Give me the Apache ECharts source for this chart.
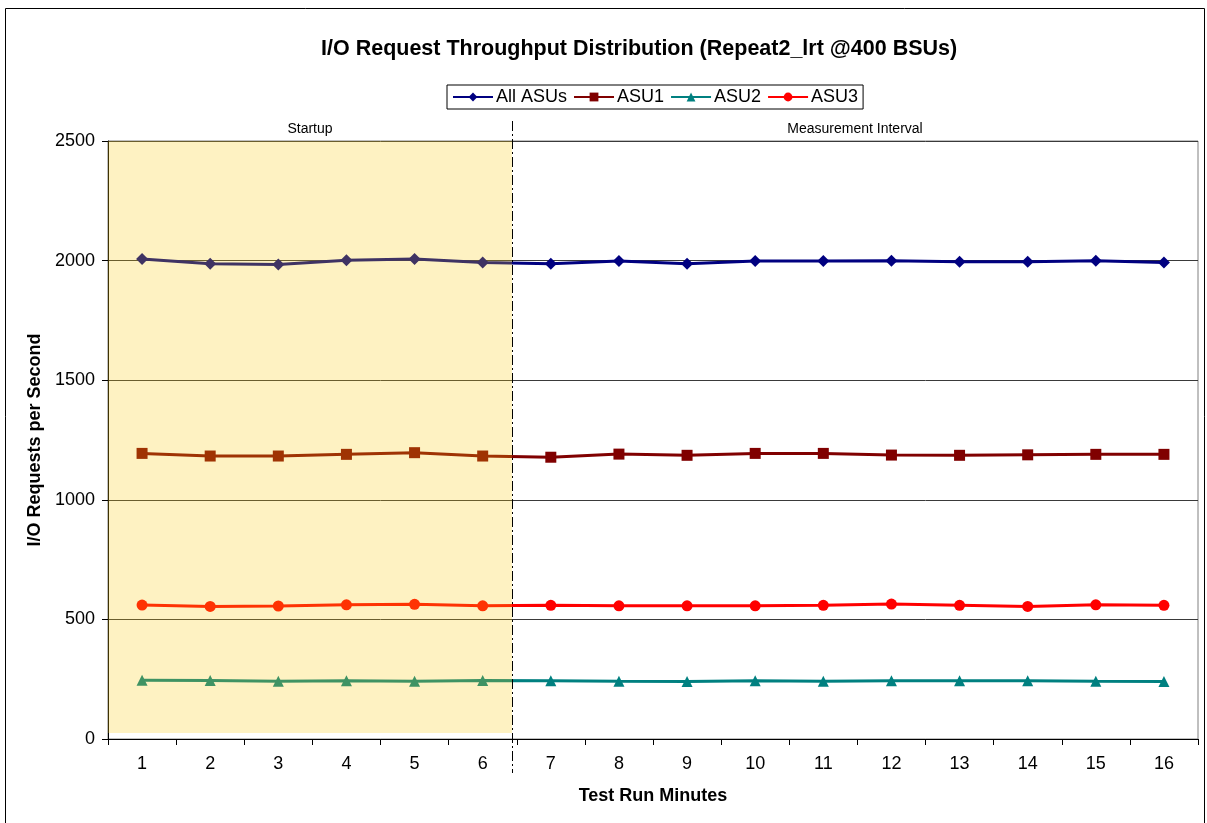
<!DOCTYPE html>
<html>
<head>
<meta charset="utf-8">
<script src="https://cdn.jsdelivr.net/npm/echarts@6/dist/echarts.min.js"></script>
<style>
  html, body { margin: 0; padding: 0; background: #fff; }
  #chart { width: 1207px; height: 823px; }
</style>
</head>
<body>
<div id="chart"></div>
<script>
// Test run minutes (x categories)
const minutes = ['1','2','3','4','5','6','7','8','9','10','11','12','13','14','15','16'];

// I/O requests per second by minute
const allAsus = [2007, 1987, 1984, 2001, 2007, 1992, 1987, 1998, 1987, 1998, 1998, 1999, 1995, 1995, 1999, 1992];
const asu1    = [1194, 1183, 1183, 1190, 1197, 1183, 1178, 1191, 1186, 1194, 1194, 1187, 1186, 1188, 1190, 1190];
const asu2    = [246, 245, 241, 243, 241, 245, 244, 241, 240, 244, 241, 243, 243, 243, 241, 240];
const asu3    = [560, 554, 556, 561, 563, 557, 559, 557, 557, 557, 559, 564, 559, 554, 561, 559];

// Phase boundaries (in minute units)
const startupRange = [0.5, 6.43];
const measureRange = [6.43, 16.5];

const yTicks = { min: 0, max: 2500, interval: 500 };

const font = 'Liberation Sans, Arial, sans-serif';
const chart = echarts.init(document.getElementById('chart'), null, { renderer: 'canvas' });

function lineSeries(name, data, color, symbol, size) {
  return {
    name, type: 'line', data,
    xAxisIndex: 0, yAxisIndex: 0,
    symbol, symbolSize: size,
    showAllSymbol: true,
    lineStyle: { color, width: 3 },
    itemStyle: { color },
    z: 3
  };
}

const option = {
  animation: false,
  backgroundColor: '#fff',
  title: {
    text: 'I/O Request Throughput Distribution (Repeat2_lrt @400 BSUs)',
    left: 316, top: 33,
    textStyle: { fontFamily: font, fontSize: 21.5, fontWeight: 'bold', color: '#000' }
  },
  legend: {
    data: ['All ASUs', 'ASU1', 'ASU2', 'ASU3'],
    left: 447, top: 85,
    padding: [3, 5, 3, 5],
    itemGap: 6, itemWidth: 40, itemHeight: 11,
    borderColor: '#000', borderWidth: 1,
    textStyle: { fontFamily: font, fontSize: 18, color: '#000', padding: [0, 0, 0, -2] }
  },
  grid: {
    left: 108, right: 9, top: 141, bottom: 84,
    show: true, borderColor: '#808080', borderWidth: 1, backgroundColor: 'transparent'
  },
  xAxis: [
    {
      type: 'category', data: minutes, boundaryGap: true,
      name: 'Test Run Minutes', nameLocation: 'middle', nameGap: 48,
      nameTextStyle: { fontFamily: font, fontSize: 18, fontWeight: 'bold', color: '#000' },
      axisLine: { lineStyle: { color: '#000', width: 1 } },
      axisTick: { show: true, length: 6, inside: false, lineStyle: { color: '#000' } },
      axisLabel: { fontFamily: font, fontSize: 18, color: '#000', margin: 16 },
      splitLine: { show: false }
    },
    {
      type: 'value', min: 0.5, max: 16.5, show: false
    }
  ],
  yAxis: {
    type: 'value', min: yTicks.min, max: yTicks.max, interval: yTicks.interval,
    name: 'I/O Requests per Second', nameLocation: 'middle', nameGap: 64,
    nameTextStyle: { fontFamily: font, fontSize: 18, fontWeight: 'bold', color: '#000' },
    axisLine: { show: true, lineStyle: { color: '#000', width: 1 } },
    axisTick: { show: true, length: 6, lineStyle: { color: '#000' } },
    axisLabel: { fontFamily: font, fontSize: 18, color: '#000', margin: 13,
                 formatter: v => String(v) },
    splitLine: { show: true, lineStyle: { color: '#3a3a3a', width: 1 } }
  },
  series: [
    lineSeries('All ASUs', allAsus, '#000080', 'diamond', 12),
    lineSeries('ASU1', asu1, '#800000', 'rect', 11),
    lineSeries('ASU2', asu2, '#008080', 'triangle', 11),
    lineSeries('ASU3', asu3, '#FF0000', 'circle', 11),
    {
      // phase shading and labels drawn over the lines
      type: 'line', data: [], xAxisIndex: 1, yAxisIndex: 0, z: 10,
      silent: true,
      markArea: {
        silent: true, z: 10,
        data: [
          [
            { xAxis: startupRange[0], yAxis: 25,
              itemStyle: { color: 'rgba(250,205,10,0.25)' },
              label: { show: true, position: 'top', distance: 5, formatter: 'Startup',
                       fontFamily: font, fontSize: 14, color: '#000' } },
            { xAxis: startupRange[1], yAxis: yTicks.max }
          ],
          [
            { xAxis: measureRange[0], yAxis: yTicks.max,
              itemStyle: { color: 'rgba(0,0,0,0)' },
              label: { show: true, position: 'top', distance: 5, formatter: 'Measurement Interval',
                       fontFamily: font, fontSize: 14, color: '#000' } },
            { xAxis: measureRange[1], yAxis: yTicks.max }
          ]
        ]
      }
    }
  ]
};

chart.setOption(option);

// phase divider and outer frame
const divX = chart.convertToPixel({ xAxisIndex: 1 }, startupRange[1]);
chart.setOption({
  graphic: [
    {
      type: 'rect', silent: true, z: 100,
      shape: { x: 5.5, y: 8.5, width: 1199, height: 840 },
      style: { fill: 'none', stroke: '#000', lineWidth: 1 }
    },
    {
      type: 'line', silent: true, z: 100,
      shape: { x1: Math.round(divX) + 0.5, y1: 121, x2: Math.round(divX) + 0.5, y2: 773 },
      style: { stroke: '#000', lineWidth: 1, lineDash: [10, 3, 2, 3] }
    }
  ]
});
</script>
</body>
</html>
